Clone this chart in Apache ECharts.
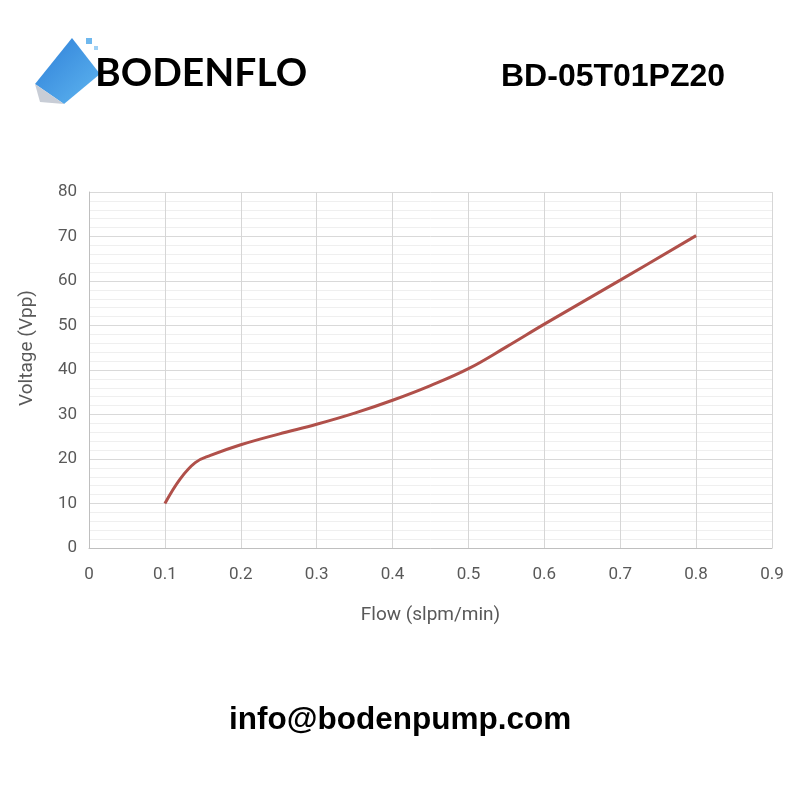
<!DOCTYPE html>
<html><head><meta charset="utf-8">
<script src="https://cdn.jsdelivr.net/npm/echarts@6/dist/echarts.min.js"></script>
<style>html,body{margin:0;padding:0;background:#fff}#c{width:800px;height:800px}</style>
</head><body><div id="c"></div>
<script>
const xTicks = [0, 0.1, 0.2, 0.3, 0.4, 0.5, 0.6, 0.7, 0.8, 0.9];
const yTicks = [0, 10, 20, 30, 40, 50, 60, 70, 80];
const flow = [0.1, 0.12, 0.14, 0.16, 0.2, 0.25, 0.3, 0.35, 0.4, 0.45, 0.5, 0.55, 0.6, 0.7, 0.8];
const voltage = [10, 15.5, 19.2, 20.8, 23.2, 25.6, 27.8, 30.3, 33.2, 36.5, 40.3, 45.2, 50.3, 60.2, 70.2];
const chart = echarts.init(document.getElementById('c'));
chart.setOption({
  backgroundColor: '#fff',
  animation: false,
  grid: {left: 89, right: 28, top: 192, bottom: 252},
  xAxis: {
    type: 'value', min: 0, max: 0.9, interval: 0.1,
    name: 'Flow (slpm/min)', nameLocation: 'middle', nameGap: 58,
    nameTextStyle: {color: '#595959', fontSize: 19, fontFamily: 'Roboto'},
    axisLine: {show: true, lineStyle: {color: '#bfbfbf'}},
    axisTick: {show: false},
    axisLabel: {color: '#595959', fontSize: 17, margin: 18, fontFamily: 'Roboto',
      formatter: v => { const t = xTicks.find(a => Math.abs(a - v) < 1e-6); return t === undefined ? '' : String(t); }},
    splitLine: {show: true, lineStyle: {color: '#d6d6d6'}}
  },
  yAxis: {
    type: 'value', min: 0, max: 80, interval: 10,
    name: 'Voltage (Vpp)', nameLocation: 'middle', nameGap: 52,
    nameTextStyle: {color: '#595959', fontSize: 19, fontFamily: 'Roboto', padding: [0, 0, 0, 44]},
    axisLine: {show: true, lineStyle: {color: '#bfbfbf'}},
    axisTick: {show: false},
    axisLabel: {color: '#595959', fontSize: 17, margin: 12, fontFamily: 'Roboto',
      formatter: v => { const t = yTicks.find(a => Math.abs(a - v) < 1e-6); return t === undefined ? '' : String(t); }},
    splitLine: {show: true, lineStyle: {color: '#d9d9d9'}},
    minorTick: {show: false, splitNumber: 5},
    minorSplitLine: {show: true, lineStyle: {color: '#efefef'}}
  },
  graphic: [
    {type: 'polygon', shape: {points: [[35, 84], [72, 38], [100, 74], [64, 104]]},
      style: {fill: new echarts.graphic.LinearGradient(0, 0, 1, 1, [{offset: 0, color: '#2e7fd8'}, {offset: 1, color: '#5fb6f0'}])}},
    {type: 'polygon', shape: {points: [[35, 84], [64, 104], [40, 102]]}, style: {fill: '#c8cdd6'}},
    {type: 'rect', shape: {x: 86, y: 38, width: 6, height: 6}, style: {fill: '#6fb8ee'}},
    {type: 'rect', shape: {x: 94, y: 46, width: 4, height: 4}, style: {fill: '#9fd0f4'}},
    {type: 'text', left: 95, top: 54,
      style: {text: 'BODENFLO', fontSize: 39, fontWeight: 'bold', fontFamily: 'Lato',
        fill: new echarts.graphic.LinearGradient(0, 0, 1, 0, [{offset: 0, color: '#1c4fa3'}, {offset: 0.75, color: '#1f5cb8'}, {offset: 1, color: '#3aa3e8'}])}},
    {type: 'text', left: 501, top: 61,
      style: {text: 'BD-05T01PZ20', fontSize: 32, fontWeight: 'bold', fontFamily: 'Liberation Sans', fill: '#000'}},
    {type: 'text', left: 229, top: 704,
      style: {text: 'info@bodenpump.com', fontSize: 31.5, fontWeight: 'bold', fontFamily: 'Liberation Sans', fill: '#000'}}
  ],
  series: [{
    type: 'line', smooth: 0.4, showSymbol: false,
    data: flow.map((x, i) => [x, voltage[i]]),
    lineStyle: {color: '#b0504a', width: 3}
  }]
});
</script></body></html>
